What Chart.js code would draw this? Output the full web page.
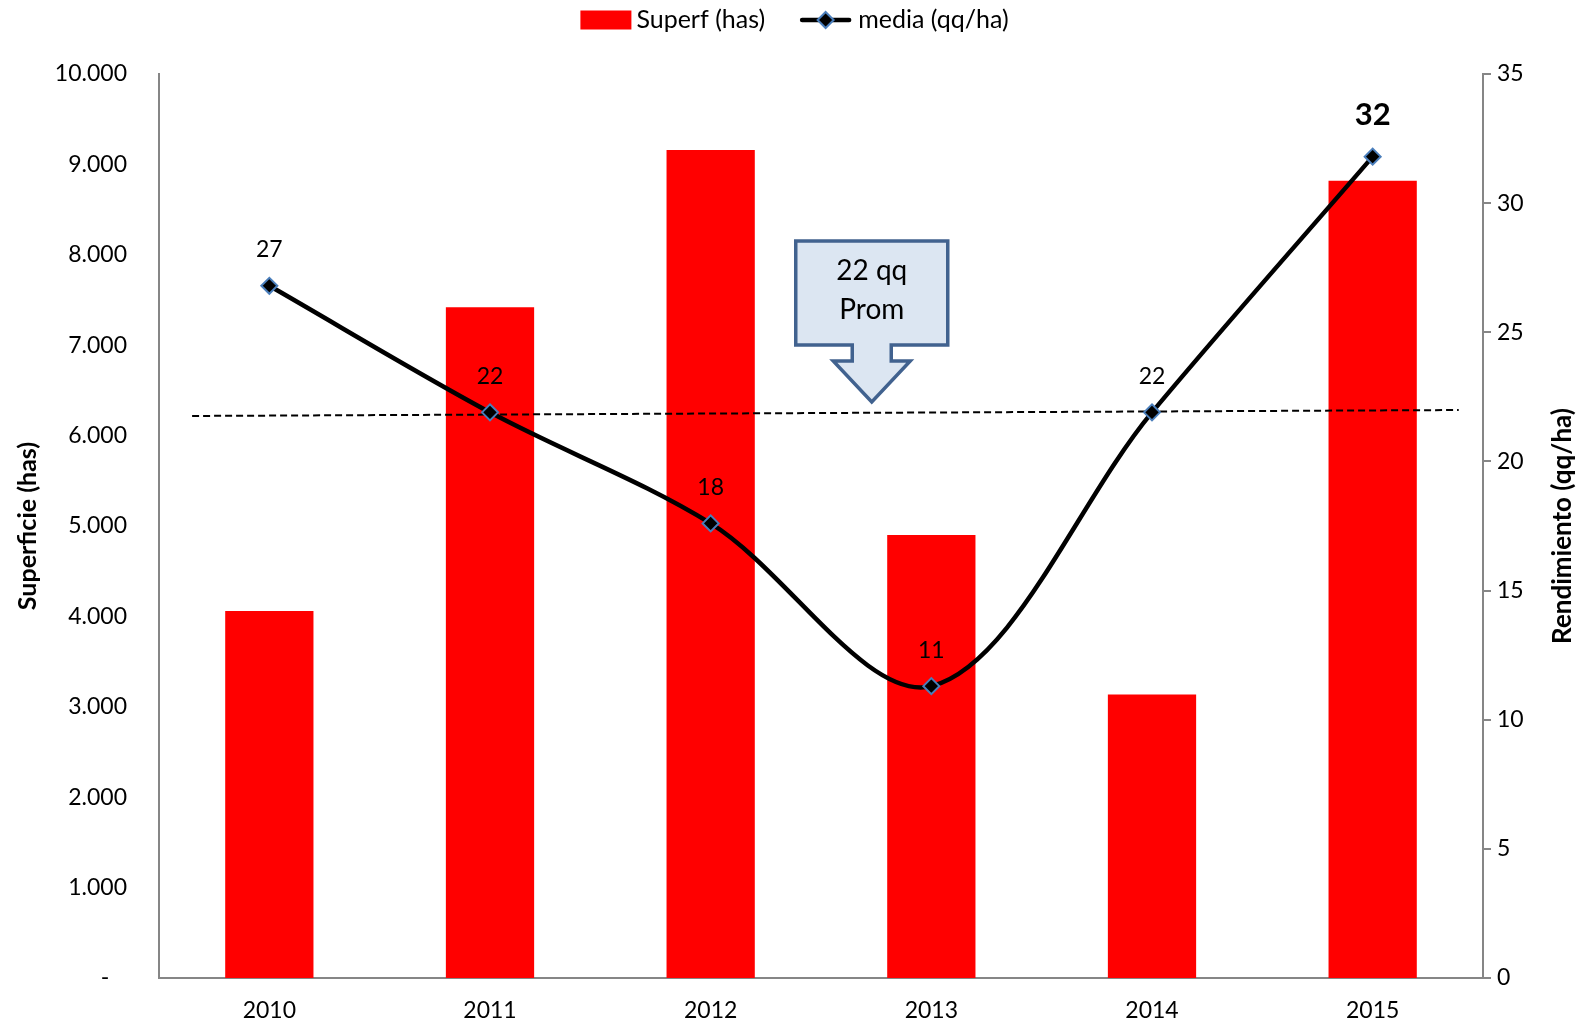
<!DOCTYPE html>
<html>
<head>
<meta charset="utf-8">
<script src="https://cdn.jsdelivr.net/npm/chart.js@4.4.1/dist/chart.umd.min.js"></script>
<style>
  html, body { margin: 0; padding: 0; background: #ffffff; }
  #grafico { display: block; }
</style>
</head>
<body>
<canvas id="grafico" width="1583" height="1025"></canvas>
<script>
// Datos.
const years = ['2010', '2011', '2012', '2013', '2014', '2015'];
const superficie = [4060, 7420, 9160, 4900, 3135, 8820];
const rendimiento = [26.8, 21.9, 17.6, 11.3, 21.9, 31.8];
const promedioX = [-0.35, 5.39];
const promedioY = [21.76, 21.99];
const leftMax = 10000;
const leftStep = 1000;
const rightMax = 35;
const rightStep = 5;
const calloutLines = ['22 qq', 'Prom'];
const calloutTip = { x: 2.73, y: 22.3 };

const FONT = 'Lato, "Open Sans", sans-serif';
const AXIS_GRAY = '#868686';

function formatMiles(v) {
  if (v === 0) return '-   ';
  return String(v).replace(/\B(?=(\d{3})+(?!\d))/g, '.');
}

function drawDiamond(ctx, cx, cy, r) {
  ctx.beginPath();
  ctx.moveTo(cx, cy - r);
  ctx.lineTo(cx + r, cy);
  ctx.lineTo(cx, cy + r);
  ctx.lineTo(cx - r, cy);
  ctx.closePath();
  ctx.fillStyle = '#000000';
  ctx.fill();
  ctx.lineWidth = 2;
  ctx.strokeStyle = '#4a7ebb';
  ctx.stroke();
}

function makeLegendLine(ctx, x, y) {
  ctx.save();
  ctx.strokeStyle = '#000000';
  ctx.lineWidth = 4.5;
  ctx.lineCap = 'round';
  ctx.beginPath();
  ctx.moveTo(x + 2, y);
  ctx.lineTo(x + 49, y);
  ctx.stroke();
  drawDiamond(ctx, x + 25.5, y, 8);
  ctx.restore();
}

// Leyenda, titulo derecho, etiquetas y llamada del promedio.
const extrasPlugin = {
  id: 'extrasPlugin',
  afterDatasetsDraw(chart) {
    const ctx = chart.ctx;
    const x2 = chart.scales.xLine;
    const y2 = chart.scales.y2;

    // etiquetas de la serie
    const meta = chart.getDatasetMeta(2);
    ctx.save();
    ctx.fillStyle = '#000000';
    ctx.textAlign = 'center';
    ctx.textBaseline = 'middle';
    meta.data.forEach((pt, i) => {
      const last = i === rendimiento.length - 1;
      ctx.font = last ? 'bold 31px ' + FONT : '23px ' + FONT;
      ctx.fillText(String(Math.round(rendimiento[i])), pt.x, pt.y - (last ? 42 : 36));
    });
    ctx.restore();

    // llamada "22 qq Prom"
    const tx = x2.getPixelForValue(calloutTip.x);
    const ty = y2.getPixelForValue(calloutTip.y);
    const L = tx - 76, R = tx + 76, T = ty - 161, B = ty - 57;
    const headY = ty - 41;
    ctx.save();
    ctx.beginPath();
    ctx.moveTo(L, T);
    ctx.lineTo(R, T);
    ctx.lineTo(R, B);
    ctx.lineTo(tx + 19.5, B);
    ctx.lineTo(tx + 19.5, headY);
    ctx.lineTo(tx + 38.5, headY);
    ctx.lineTo(tx, ty);
    ctx.lineTo(tx - 38.5, headY);
    ctx.lineTo(tx - 19.5, headY);
    ctx.lineTo(tx - 19.5, B);
    ctx.lineTo(L, B);
    ctx.closePath();
    ctx.fillStyle = '#dce6f2';
    ctx.fill();
    ctx.lineWidth = 3.5;
    ctx.lineJoin = 'miter';
    ctx.strokeStyle = '#41628f';
    ctx.stroke();
    ctx.fillStyle = '#000000';
    ctx.font = '28px ' + FONT;
    ctx.textAlign = 'center';
    ctx.textBaseline = 'middle';
    ctx.fillText(calloutLines[0], tx, T + 30);
    ctx.fillText(calloutLines[1], tx, T + 69);
    ctx.restore();
  },
  afterDraw(chart) {
    const ctx = chart.ctx;
    const area = chart.chartArea;

    // titulo eje derecho (de abajo hacia arriba)
    ctx.save();
    ctx.translate(chart.width - 20, (area.top + area.bottom) / 2);
    ctx.rotate(-Math.PI / 2);
    ctx.font = 'bold 26px ' + FONT;
    ctx.fillStyle = '#000000';
    ctx.textAlign = 'center';
    ctx.textBaseline = 'middle';
    ctx.fillText('Rendimiento (qq/ha)', 0, 0);
    ctx.restore();

    // leyenda superior
    ctx.save();
    ctx.font = '25px ' + FONT;
    ctx.textBaseline = 'middle';
    ctx.textAlign = 'left';
    const barLabel = chart.data.datasets[0].label;
    const lineLabel = chart.data.datasets[2].label;
    const w1 = ctx.measureText(barLabel).width;
    const w2 = ctx.measureText(lineLabel).width;
    const total = 51 + 5 + w1 + 35 + 51 + 7 + w2;
    let x = chart.width / 2 - total / 2 + 3;
    const ly = 20;
    ctx.fillStyle = '#ff0000';
    ctx.fillRect(x, ly - 9.5, 51, 19);
    x += 56;
    ctx.fillStyle = '#000000';
    ctx.fillText(barLabel, x, ly);
    x += w1 + 35;
    makeLegendLine(ctx, x, ly);
    x += 58;
    ctx.fillStyle = '#000000';
    ctx.fillText(lineLabel, x, ly);
    ctx.restore();
  }
};

new Chart(document.getElementById('grafico'), {
  data: {
    labels: years,
    datasets: [
      {
        type: 'bar',
        label: 'Superf (has)',
        data: superficie,
        yAxisID: 'y',
        xAxisID: 'x',
        backgroundColor: '#ff0000',
        borderWidth: 0,
        grouped: false,
        categoryPercentage: 1,
        barPercentage: 0.4,
        order: 3
      },
      {
        type: 'line',
        label: 'promedio',
        data: promedioX.map((v, i) => ({ x: v, y: promedioY[i] })),
        xAxisID: 'xLine',
        yAxisID: 'y2',
        borderColor: '#000000',
        borderWidth: 2,
        borderDash: [7, 4],
        pointRadius: 0,
        fill: false,
        order: 2
      },
      {
        type: 'line',
        label: 'media (qq/ha)',
        data: rendimiento,
        xAxisID: 'x',
        yAxisID: 'y2',
        borderColor: '#000000',
        borderWidth: 4.5,
        tension: 0.33,
        pointStyle: 'rectRot',
        pointRadius: 8,
        pointBackgroundColor: '#000000',
        pointBorderColor: '#4a7ebb',
        pointBorderWidth: 2,
        fill: false,
        order: 1
      }
    ]
  },
  options: {
    responsive: false,
    animation: false,
    layout: { padding: { top: 74, right: 0, bottom: 0, left: 0 } },
    plugins: {
      legend: { display: false },
      tooltip: { enabled: false }
    },
    scales: {
      x: {
        type: 'category',
        offset: true,
        grid: { display: false, drawTicks: false },
        border: { display: true, color: AXIS_GRAY, width: 2 },
        ticks: { color: '#000000', font: { family: FONT, size: 23 }, padding: 19, maxRotation: 0 },
        afterFit(scale) { scale.height = 47; }
      },
      xLine: {
        type: 'linear',
        display: false,
        min: -0.5,
        max: 5.5
      },
      y: {
        position: 'left',
        min: 0,
        max: leftMax,
        grid: { display: false, drawTicks: false },
        border: { display: true, color: AXIS_GRAY, width: 2 },
        ticks: {
          stepSize: leftStep,
          color: '#000000',
          font: { family: FONT, size: 23 },
          padding: 32,
          callback: (v) => formatMiles(v)
        },
        title: {
          display: true,
          text: 'Superficie (has)',
          color: '#000000',
          font: { family: FONT, size: 25, weight: 'bold' },
          padding: { top: 13, bottom: 0 }
        },
        afterFit(scale) { scale.width = 159; }
      },
      y2: {
        position: 'right',
        min: 0,
        max: rightMax,
        grid: { display: true, drawOnChartArea: false, drawTicks: true, tickLength: 8, color: AXIS_GRAY, lineWidth: 2 },
        border: { display: true, color: AXIS_GRAY, width: 2 },
        ticks: {
          stepSize: rightStep,
          color: '#000000',
          font: { family: FONT, size: 23 },
          padding: 6
        },
        afterFit(scale) { scale.width = 100; }
      }
    }
  },
  plugins: [extrasPlugin]
});
</script>
</body>
</html>
